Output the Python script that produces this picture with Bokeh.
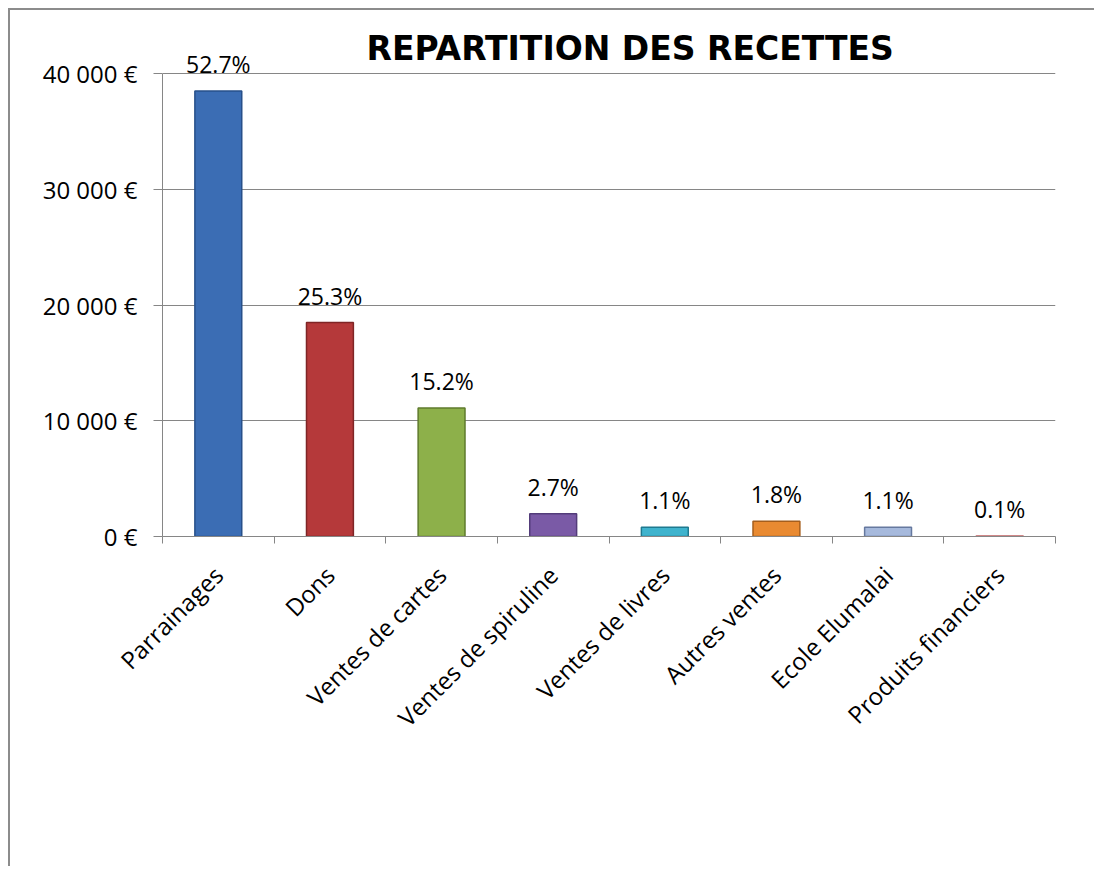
from bokeh.plotting import figure
from bokeh.models import Range1d, FixedTicker, Label, LabelSet, ColumnDataSource
from bokeh.core.properties import value
from bokeh.embed import file_html
from bokeh.resources import INLINE
import math

# ---- data ----
categories = ["Parrainages", "Dons", "Ventes de cartes", "Ventes de spiruline",
              "Ventes de livres", "Autres ventes", "Ecole Elumalai", "Produits financiers"]
amounts = [38520, 18490, 11110, 1975, 805, 1315, 805, 75]
pct_labels = ["52.7%", "25.3%", "15.2%", "2.7%", "1.1%", "1.8%", "1.1%", "0.1%"]
bar_colors = ["#3b6db4", "#b5393a", "#8db04a", "#7a5aa6", "#3fb3cd", "#e98a31", "#a6b9dc", "#e3a3a3"]
edge_colors = ["#27508a", "#7f2526", "#5f7b2c", "#533c7a", "#1f7a90", "#a55e1c", "#66799f", "#d08888"]
y_ticks = [0, 10000, 20000, 30000, 40000]
y_tick_labels = ["0 €", "10 000 €", "20 000 €", "30 000 €", "40 000 €"]
title_text = "REPARTITION DES RECETTES"

GRAY = "#868686"
FONT = "Open Sans"

idx = list(range(len(categories)))
src = ColumnDataSource(dict(x=idx, top=amounts, pct=pct_labels, fill=bar_colors, edge=edge_colors))

# frame is extended above the 40 000 line so that the title and top label are not clipped
p = figure(width=1086, height=858, output_backend="svg", toolbar_location=None,
           x_range=Range1d(-0.5, len(categories) - 0.5), y_range=Range1d(0, 44000),
           min_border_left=152, min_border_right=41, min_border_top=17, min_border_bottom=332)
p.styles = {"margin-left": "8px", "margin-top": "8px",
            "border-left": "2px solid #8c8c8c", "border-top": "2px solid #8c8c8c"}

p.outline_line_color = None
p.background_fill_color = "white"
p.border_fill_color = "white"

# grid
p.xgrid.grid_line_color = None
p.ygrid.grid_line_color = GRAY
p.ygrid.grid_line_width = 1

# y axis
p.yaxis.ticker = FixedTicker(ticks=y_ticks)
p.yaxis.bounds = (y_ticks[0], y_ticks[-1])
p.yaxis.major_label_overrides = {tv: tl for tv, tl in zip(y_ticks, y_tick_labels)}
p.yaxis.axis_line_color = GRAY
p.yaxis.major_tick_line_color = GRAY
p.yaxis.major_tick_out = 9
p.yaxis.major_tick_in = 0
p.yaxis.minor_tick_line_color = None
p.yaxis.major_label_standoff = 16
p.yaxis.major_label_text_font = FONT
p.yaxis.major_label_text_font_size = "24px"
p.yaxis.major_label_text_color = "black"

# x axis: labels at bar centres, tick marks at category boundaries
p.xaxis.ticker = FixedTicker(ticks=idx, minor_ticks=[i - 0.5 for i in range(len(categories) + 1)])
p.xaxis.major_label_overrides = {i: c for i, c in zip(idx, categories)}
p.xaxis.major_label_orientation = math.pi / 4
p.xaxis.axis_line_color = GRAY
p.xaxis.major_tick_line_color = None
p.xaxis.major_tick_out = 0
p.xaxis.major_tick_in = 0
p.xaxis.minor_tick_line_color = GRAY
p.xaxis.minor_tick_out = 7
p.xaxis.minor_tick_in = 0
p.xaxis.major_label_standoff = 27
p.xaxis.major_label_text_font = FONT
p.xaxis.major_label_text_font_size = "24px"
p.xaxis.major_label_text_color = "black"

# bars
p.vbar(x="x", top="top", width=0.42, fill_color="fill", line_color="edge", line_width=1.5, source=src)

# percentage labels
labels = LabelSet(x="x", y="top", text="pct", source=src, text_align="center",
                  text_baseline="alphabetic", y_offset=18, text_font=value(FONT),
                  text_font_size="23px", text_color="black")
p.add_layout(labels)

# title
title = Label(x=204, y=488, x_units="screen", y_units="screen", text=title_text,
              text_font="DejaVu Sans", text_font_size="33px", text_font_style="bold",
              text_color="black", text_align="left", text_baseline="alphabetic")
p.add_layout(title)

open("out.html", "w").write(file_html(p, INLINE))
